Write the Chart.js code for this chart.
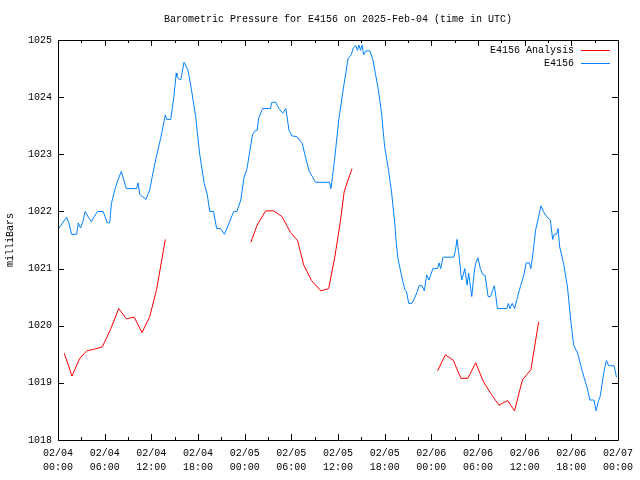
<!DOCTYPE html>
<html>
<head>
<meta charset="utf-8">
<script src="https://cdn.jsdelivr.net/npm/chart.js@4"></script>
<style>
html,body{margin:0;padding:0;background:#fff;}
#wrap{width:640px;height:480px;}
</style>
</head>
<body>
<div id="wrap"><canvas id="c" width="640" height="480"></canvas></div>
<script>
const chartTitle = 'Barometric Pressure for E4156 on 2025-Feb-04 (time in UTC)';
const yAxisTitle = 'milliBars';
const seriesNames = ['E4156 Analysis', 'E4156'];
const xTickDates = ['02/04','02/04','02/04','02/04','02/05','02/05','02/05','02/05','02/06','02/06','02/06','02/06','02/07'];
const xTickTimes = ['00:00','06:00','12:00','18:00','00:00','06:00','12:00','18:00','00:00','06:00','12:00','18:00','00:00'];
const yMin = 1018, yMax = 1025;
// hours since 02/04 00:00 UTC
const blueHours = [0.1,0.6,1.1,1.4,1.75,2.4,2.6,2.9,3.2,3.5,3.9,4.3,4.6,5.1,5.8,6.35,6.65,6.87,7.3,7.7,8.15,8.6,8.8,10.1,10.3,10.5,11.3,11.8,12.2,12.6,13.2,13.8,14.0,14.5,14.9,15.2,15.3,15.6,15.8,16.2,16.7,17.1,17.7,18.2,18.8,19.2,19.5,20.0,20.4,20.9,21.4,21.8,22.6,23.0,23.5,23.9,24.3,25.0,25.4,25.6,25.8,26.3,27.3,27.5,28.0,28.4,28.9,29.3,29.7,30.1,30.7,31.4,31.8,32.3,32.7,33.1,34.9,35.1,35.3,35.6,36.1,36.6,37.0,37.3,37.7,38.0,38.3,38.5,38.7,38.9,39.1,39.3,39.6,40.1,40.5,40.8,41.2,41.6,42.0,42.5,42.9,43.3,43.5,43.7,44.2,44.6,44.8,45.1,45.5,45.9,46.2,46.4,46.8,47.1,47.4,47.7,48.0,48.2,48.8,49.0,49.2,49.5,50.9,51.1,51.3,51.5,51.8,51.9,52.1,52.3,52.6,52.8,53.0,53.2,53.5,53.7,54.0,54.3,54.6,54.9,55.1,55.3,55.6,55.9,56.1,56.3,56.5,57.7,57.9,58.1,58.4,58.7,59.1,59.5,59.9,60.2,60.6,60.8,61.1,61.4,61.8,62.1,62.4,62.8,63.3,63.6,63.8,64.1,64.3,64.5,65.0,65.5,65.9,66.3,66.8,67.2,67.6,68.0,68.4,68.9,69.2,69.5,69.7,69.9,70.2,70.5,70.8,71.5,71.8];
const blueValues = [1021.70,1021.80,1021.90,1021.80,1021.60,1021.60,1021.80,1021.71,1021.82,1022.00,1021.90,1021.82,1021.90,1022.00,1022.00,1021.80,1021.80,1022.14,1022.38,1022.55,1022.70,1022.48,1022.40,1022.40,1022.50,1022.30,1022.21,1022.38,1022.67,1022.93,1023.28,1023.69,1023.61,1023.61,1024.01,1024.42,1024.36,1024.31,1024.31,1024.61,1024.48,1024.18,1023.66,1023.02,1022.49,1022.29,1022.00,1022.00,1021.70,1021.70,1021.60,1021.73,1022.00,1022.00,1022.20,1022.58,1022.75,1023.34,1023.42,1023.42,1023.63,1023.80,1023.80,1023.91,1023.91,1023.80,1023.72,1023.80,1023.42,1023.32,1023.31,1023.19,1022.96,1022.70,1022.61,1022.51,1022.51,1022.40,1022.61,1022.96,1023.60,1024.07,1024.42,1024.68,1024.74,1024.87,1024.90,1024.82,1024.91,1024.82,1024.91,1024.74,1024.81,1024.81,1024.65,1024.42,1024.12,1023.72,1023.13,1022.72,1022.32,1021.79,1021.44,1021.18,1020.86,1020.63,1020.60,1020.39,1020.39,1020.50,1020.60,1020.70,1020.70,1020.61,1020.89,1020.80,1020.92,1021.00,1021.00,1021.10,1021.00,1021.20,1021.20,1021.32,1021.51,1021.30,1020.92,1020.80,1020.89,1021.00,1020.71,1020.92,1020.71,1020.51,1020.92,1021.09,1021.19,1021.00,1020.90,1020.88,1020.71,1020.51,1020.51,1020.62,1020.70,1020.51,1020.30,1020.30,1020.39,1020.30,1020.39,1020.30,1020.51,1020.71,1020.89,1021.10,1021.10,1021.00,1021.30,1021.67,1021.91,1022.10,1022.00,1021.91,1021.85,1021.51,1021.60,1021.60,1021.70,1021.38,1021.09,1020.68,1020.13,1019.66,1019.52,1019.31,1019.11,1018.93,1018.70,1018.70,1018.51,1018.69,1018.76,1018.93,1019.20,1019.39,1019.30,1019.30,1019.10];
const redHours = [0.8,1.8,2.8,3.7,4.7,5.7,6.8,7.8,8.8,9.8,10.8,11.8,12.7,13.8,19.0,24.8,25.6,26.7,27.7,28.8,29.9,30.8,31.6,32.6,33.8,34.8,35.6,36.3,36.8,37.8,43.0,48.8,49.8,50.8,51.8,52.7,53.7,54.7,55.7,56.7,57.8,58.7,59.7,60.8,61.8];
const redValues = [1019.52,1019.12,1019.43,1019.56,1019.59,1019.63,1019.95,1020.30,1020.12,1020.15,1019.88,1020.16,1020.65,1021.51,null,1021.46,1021.76,1022.01,1022.01,1021.91,1021.63,1021.49,1021.06,1020.79,1020.61,1020.65,1021.21,1021.82,1022.35,1022.75,null,1019.21,1019.49,1019.40,1019.08,1019.08,1019.35,1019.02,1018.80,1018.61,1018.69,1018.51,1019.05,1019.23,1020.07];

const FONT = 'Liberation Mono, DejaVu Sans Mono, monospace';
const toPts = (xs, ys) => xs.map((x, i) => ({x: x, y: ys[i]}));

const framePlugin = {
  id: 'frame',
  afterDraw(chart) {
    const ctx = chart.ctx;
    const a = chart.chartArea;
    const xs = chart.scales.x, ys = chart.scales.y;
    ctx.save();
    ctx.strokeStyle = '#000';
    ctx.lineWidth = 1;
    ctx.beginPath();
    ctx.rect(Math.round(a.left) + 0.5, Math.round(a.top) + 0.5, Math.round(a.right - a.left), Math.round(a.bottom - a.top));
    ctx.stroke();
    ctx.beginPath();
    for (let h = 0; h <= 72; h += 3) {
      const px = Math.round(xs.getPixelForValue(h)) + 0.5;
      const len = (h % 6 === 0) ? 6 : 3;
      ctx.moveTo(px, a.bottom); ctx.lineTo(px, a.bottom - len);
      ctx.moveTo(px, a.top); ctx.lineTo(px, a.top + len);
    }
    for (let v = yMin; v <= yMax; v++) {
      const py = Math.round(ys.getPixelForValue(v)) + 0.5;
      ctx.moveTo(a.left, py); ctx.lineTo(a.left + 6, py);
      ctx.moveTo(a.right, py); ctx.lineTo(a.right - 6, py);
    }
    ctx.stroke();
    // title
    ctx.fillStyle = '#000';
    ctx.font = '10px ' + FONT;
    ctx.textAlign = 'center';
    ctx.textBaseline = 'middle';
    ctx.fillText(chartTitle, (a.left + a.right) / 2, 19);
    // legend
    ctx.textAlign = 'right';
    const rows = [50, 63];
    chart.data.datasets.forEach((ds, i) => {
      ctx.fillStyle = '#000';
      ctx.fillText(ds.label, 574, rows[i]);
      ctx.strokeStyle = ds.borderColor;
      ctx.beginPath();
      ctx.moveTo(581, rows[i] + 0.5);
      ctx.lineTo(610, rows[i] + 0.5);
      ctx.stroke();
    });
    ctx.restore();
  }
};

new Chart(document.getElementById('c'), {
  type: 'line',
  data: {
    datasets: [
      { label: seriesNames[0], data: toPts(redHours, redValues), borderColor: '#ff0000', borderWidth: 1, pointRadius: 0, spanGaps: false, tension: 0, fill: false },
      { label: seriesNames[1], data: toPts(blueHours, blueValues), borderColor: '#0080ff', borderWidth: 1, pointRadius: 0, tension: 0, fill: false, stepped: false }
    ]
  },
  options: {
    responsive: false,
    animation: false,
    events: [],
    layout: { padding: { top: 40, right: 19, left: 0, bottom: 0 } },
    plugins: { legend: { display: false }, title: { display: false }, tooltip: { enabled: false } },
    scales: {
      x: {
        type: 'linear', min: 0, max: 72,
        grid: { display: false, drawTicks: false },
        border: { display: false },
        afterFit: s => { s.height = 40; },
        afterBuildTicks: s => { s.ticks = xTickDates.map((d, i) => ({ value: i * 6 })); },
        ticks: {
          autoSkip: false, maxRotation: 0, padding: 7, color: '#000',
          font: { family: FONT, size: 10, lineHeight: 1.35 },
          callback: (v) => [xTickDates[Math.round(v / 6)], xTickTimes[Math.round(v / 6)]]
        }
      },
      y: {
        type: 'linear', min: yMin, max: yMax,
        grid: { display: false, drawTicks: false },
        border: { display: false },
        afterFit: s => { s.width = 58; },
        ticks: { stepSize: 1, padding: 6, color: '#000', font: { family: FONT, size: 10 }, callback: (v) => String(v) },
        title: { display: true, text: yAxisTitle, color: '#000', font: { family: FONT, size: 10 }, padding: { top: 4, bottom: 0 } }
      }
    }
  },
  plugins: [framePlugin]
});
</script>
</body>
</html>
